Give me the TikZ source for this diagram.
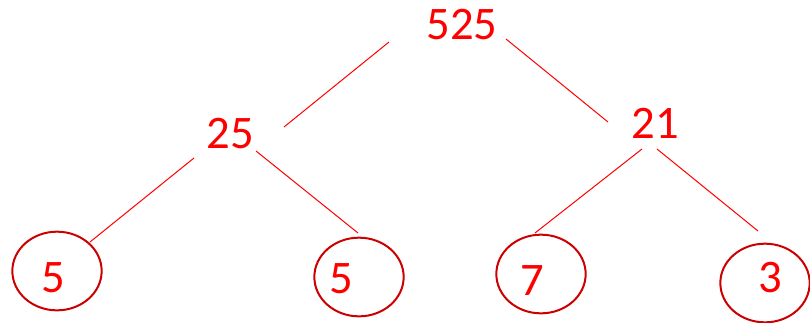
\documentclass[tikz,border=0pt]{standalone}
\usepackage{fontspec}
\setmainfont{Carlito}
\usepackage{tikz}
\usetikzlibrary{shapes.geometric}
\usetikzlibrary{calc}
\definecolor{factorred}{RGB}{255,0,0}
\definecolor{ringred}{RGB}{204,0,0}

\begin{document}
\begin{tikzpicture}[x=0.75pt, y=-0.75pt,
        every node/.style={text=factorred,
          inner sep=0pt,
          font=\fontsize{35}{42}\selectfont,
      },
        leaf/.style={ellipse, draw=ringred, line width=1.5pt,
          minimum width=67pt, minimum height=59pt},
        branch/.style={draw=factorred, line width=0.75pt},
      ]
      \useasboundingbox (0,0) rectangle (810,322);

      \node (top) at (462,25) {525};
      \node (l25) at (230,134) {25};
      \node (r21) at (655,123) {21};

      % primes in rings, the digit is a bit off the ring's middle
      \node[leaf, label={[shift={(-4,7)}]center:5}] (c1) at (57,271) {};
      \node[leaf, label={[shift={(-18,2)}]center:5}] (c2) at (359,277) {};
      \node[leaf, label={[shift={(-9,7)}]center:7}] (c3) at (541,274) {};
      \node[leaf, label={[shift={(5,-5)}]center:3}] (c4) at (765,283) {};

      \draw[branch] ($(top)+(-73,17)$) -- ($(l25)+(54,-7)$);
      \draw[branch] ($(top)+(44,14)$) -- ($(r21)+(-47,-1)$);

      \draw[branch] ($(l25)+(-36,24)$) -- ($(c1)+(33,-29)$);
      \draw[branch] ($(l25)+(26,17)$) -- ($(c2)+(-1,-44)$);
      \draw[branch] ($(r21)+(-13,26)$) -- ($(c3)+(-6,-41)$);
      \draw[branch] ($(r21)+(2,26)$) -- ($(c4)+(-7,-52)$);
    \end{tikzpicture}
\end{document}
